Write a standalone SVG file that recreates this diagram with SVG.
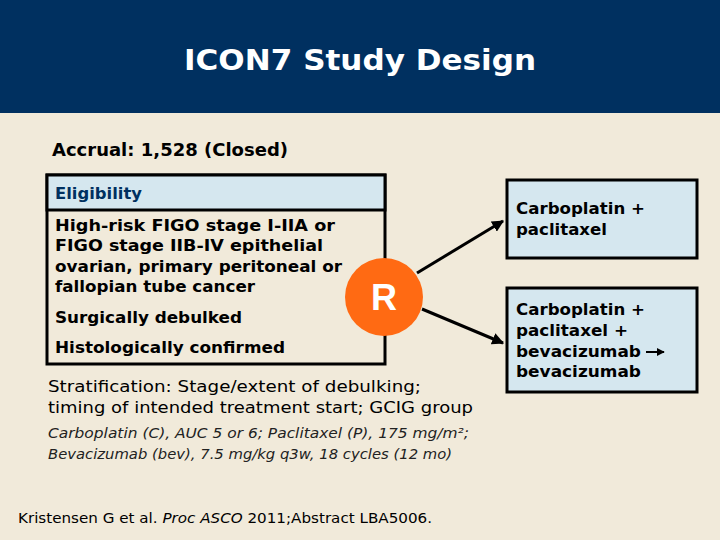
<svg xmlns="http://www.w3.org/2000/svg" width="720" height="540" viewBox="0 0 720 540">
<defs>
<style>
.b{font-family:"DejaVu Sans","Liberation Sans",sans-serif;font-weight:bold;fill:#000}
.r{font-family:"DejaVu Sans","Liberation Sans",sans-serif;fill:#000}
.box{stroke:#000;stroke-width:3;fill:#d5e7ef}
.conn{stroke:#000;stroke-width:3;fill:none}
</style>
<marker id="ah" viewBox="0 0 10 10" refX="9" refY="5" markerWidth="4" markerHeight="4" orient="auto" markerUnits="strokeWidth">
<path d="M0,0 L10,5 L0,10 z" fill="#000"/>
</marker>
</defs>
<rect x="0" y="0" width="720" height="540" fill="#f1eada"/>
<rect x="0" y="0" width="720" height="113" fill="#003060"/>
<text x="360" y="70" text-anchor="middle" font-family="'DejaVu Sans','Liberation Sans',sans-serif" font-weight="bold" font-size="29" fill="#fff" textLength="352" lengthAdjust="spacingAndGlyphs">ICON7 Study Design</text>
<text x="52" y="156" class="b" font-size="17" textLength="236" lengthAdjust="spacingAndGlyphs">Accrual: 1,528 (Closed)</text>

<g id="eligibility">
<rect x="47" y="175" width="338" height="189" fill="#f1eada" stroke="#000" stroke-width="3"/>
<rect x="47" y="175" width="338" height="35" fill="#d5e7ef" stroke="#000" stroke-width="3"/>
<text x="55" y="199" class="b" font-size="15" style="fill:#003060" textLength="87" lengthAdjust="spacingAndGlyphs">Eligibility</text>
<g class="b" font-size="15">
<text x="55" y="231" textLength="280" lengthAdjust="spacingAndGlyphs">High-risk FIGO stage I-IIA or</text>
<text x="55" y="251" textLength="268" lengthAdjust="spacingAndGlyphs">FIGO stage IIB-IV epithelial</text>
<text x="55" y="272" textLength="287" lengthAdjust="spacingAndGlyphs">ovarian, primary peritoneal or</text>
<text x="55" y="292" textLength="200" lengthAdjust="spacingAndGlyphs">fallopian tube cancer</text>
<text x="55" y="323" textLength="187" lengthAdjust="spacingAndGlyphs">Surgically debulked</text>
<text x="55" y="353" textLength="230" lengthAdjust="spacingAndGlyphs">Histologically confirmed</text>
</g>
</g>

<g id="connectors">
<line x1="417" y1="273" x2="503" y2="221" class="conn" marker-end="url(#ah)"/>
<line x1="422" y1="309" x2="503" y2="343" class="conn" marker-end="url(#ah)"/>
</g>

<g id="randomize">
<circle cx="384" cy="297" r="39" fill="#ff6a13"/>
<text x="384" y="310" text-anchor="middle" font-family="'Liberation Sans','DejaVu Sans',sans-serif" font-weight="bold" font-size="36" fill="#fff">R</text>
</g>

<g id="arm1">
<rect x="507" y="180" width="190" height="78" class="box"/>
<g class="b" font-size="15">
<text x="516" y="214" textLength="129" lengthAdjust="spacingAndGlyphs">Carboplatin +</text>
<text x="516" y="235" textLength="91" lengthAdjust="spacingAndGlyphs">paclitaxel</text>
</g>
</g>

<g id="arm2">
<rect x="507" y="288" width="190" height="104" class="box"/>
<g class="b" font-size="15">
<text x="516" y="315" textLength="129" lengthAdjust="spacingAndGlyphs">Carboplatin +</text>
<text x="516" y="336" textLength="112" lengthAdjust="spacingAndGlyphs">paclitaxel +</text>
<text x="516" y="357" textLength="125" lengthAdjust="spacingAndGlyphs">bevacizumab</text>
<text x="516" y="377" textLength="125" lengthAdjust="spacingAndGlyphs">bevacizumab</text>
</g>
<line x1="646" y1="352" x2="664" y2="352" stroke="#000" stroke-width="2" marker-end="url(#ah)"/>
</g>

<text x="48" y="392" class="r" font-size="15.5" textLength="373" lengthAdjust="spacingAndGlyphs">Stratification: Stage/extent of debulking;</text>
<text x="48" y="413" class="r" font-size="15.5" textLength="425" lengthAdjust="spacingAndGlyphs">timing of intended treatment start; GCIG group</text>
<g font-family="'DejaVu Sans','Liberation Sans',sans-serif" font-style="italic" font-size="13.5" fill="#222">
<text x="48" y="438" textLength="421" lengthAdjust="spacingAndGlyphs">Carboplatin (C), AUC 5 or 6; Paclitaxel (P), 175 mg/m²;</text>
<text x="48" y="459" textLength="404" lengthAdjust="spacingAndGlyphs">Bevacizumab (bev), 7.5 mg/kg q3w, 18 cycles (12 mo)</text>
</g>
<text x="18" y="523" class="r" font-size="14.5" textLength="414" lengthAdjust="spacingAndGlyphs">Kristensen G et al. <tspan font-style="italic">Proc ASCO</tspan> 2011;Abstract LBA5006.</text>
</svg>
